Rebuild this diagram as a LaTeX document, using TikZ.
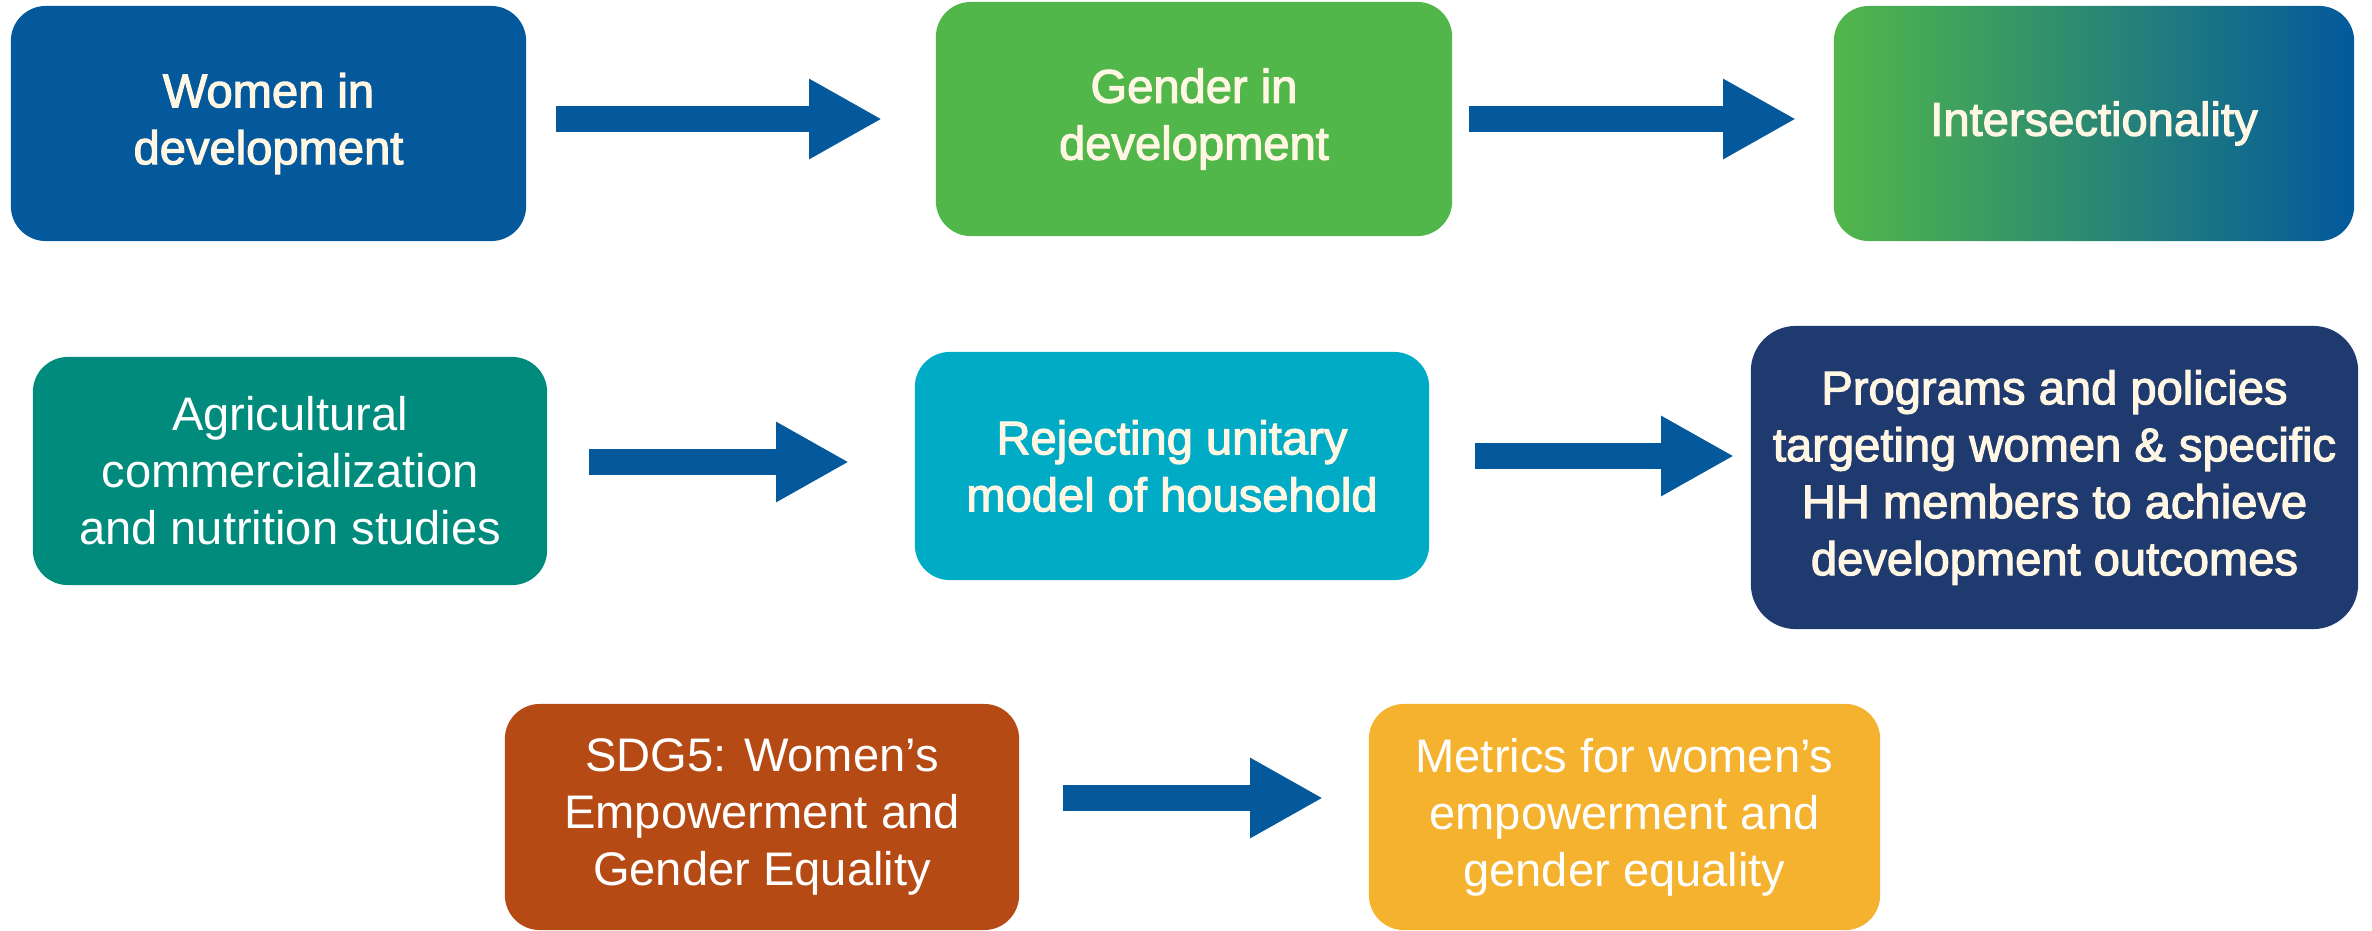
\documentclass[tikz,border=0pt]{standalone}
\usepackage{fontspec}
\setmainfont{Liberation Sans}
\newfontfamily\outlfont[FakeBold=2.4]{Liberation Sans}
\usetikzlibrary{arrows.meta}
\definecolor{cBlue}{HTML}{03599C}
\definecolor{cGreen}{HTML}{52B74A}
\definecolor{cTeal}{HTML}{008B7C}
\definecolor{cCyan}{HTML}{00ABC5}
\definecolor{cNavy}{HTML}{1F3A6F}
\definecolor{cRust}{HTML}{B54A15}
\definecolor{cAmber}{HTML}{F4B22E}
\definecolor{cCream}{HTML}{FFF6E3}
\tikzset{
  box/.style={rounded corners=0.35cm, inner sep=0pt, align=center, text=white,
    font=\fontsize{13.4}{16.2}\selectfont},
  outl/.style={text=cCream, font=\outlfont\fontsize{13.4}{16.2}\selectfont},
  bigarrow/.style={draw=cBlue, line width=2.6mm, -{Triangle[length=7.3mm,width=7.5mm]}},
}
\begin{document}
\begin{tikzpicture}[x=0.01cm,y=-0.01cm]
\useasboundingbox (0,0) rectangle (2372,930);
% row 1
\node[box, outl, fill=cBlue, minimum width=5.15cm, minimum height=2.35cm] (wid) at (268.5,123.5) {Women in\\development};
\node[box, outl, fill=cGreen, minimum width=5.16cm, minimum height=2.34cm] (gid) at (1194,119) {Gender in\\development};
\node[box, outl, left color=cGreen, right color=cBlue, minimum width=5.2cm, minimum height=2.35cm] (inter) at (2094,123.5) {Intersectionality};
% row 2
\node[box, fill=cTeal, minimum width=5.14cm, minimum height=2.28cm] (agr) at (290,471) {Agricultural\\commercialization\\and nutrition studies};
\node[box, outl, fill=cCyan, minimum width=5.14cm, minimum height=2.28cm] (rej) at (1172,466) {Rejecting unitary\\model of household};
\node[box, outl, fill=cNavy, rounded corners=0.45cm, minimum width=6.07cm, minimum height=3.03cm] (prog) at (2054.5,477.5) {Programs and policies\\targeting women \& specific\\HH members to achieve\\development outcomes};
% row 3
\node[box, fill=cRust, minimum width=5.14cm, minimum height=2.26cm] (sdg) at (762,817) {SDG5: Women’s\\Empowerment and\\Gender Equality};
\node[box, fill=cAmber, minimum width=5.11cm, minimum height=2.26cm] (met) at (1624.5,817) {Metrics for women’s\\empowerment and\\gender equality};
% arrows
\coordinate (r1) at (0,119);
\coordinate (r2a) at (0,462);
\coordinate (r2b) at (0,456);
\coordinate (r3) at (0,798);
\draw[bigarrow, shorten <=0.29cm, shorten >=0.53cm] (wid.east |- r1) -- (gid.west |- r1);
\draw[bigarrow, shorten <=0.16cm, shorten >=0.37cm] (gid.east |- r1) -- (inter.west |- r1);
\draw[bigarrow, shorten <=0.41cm, shorten >=0.65cm] (agr.east |- r2a) -- (rej.west |- r2a);
\draw[bigarrow, shorten <=0.45cm, shorten >=0.16cm] (rej.east |- r2b) -- (prog.west |- r2b);
\draw[bigarrow, shorten <=0.43cm, shorten >=0.45cm] (sdg.east |- r3) -- (met.west |- r3);
\end{tikzpicture}
\end{document}
